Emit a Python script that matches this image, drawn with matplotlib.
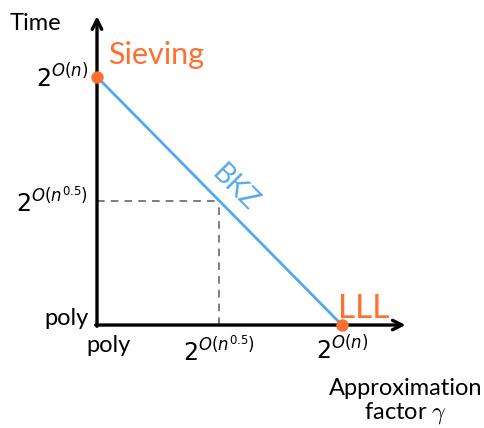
import matplotlib.pyplot as plt

plt.rcParams['font.family'] = ['Lato', 'DejaVu Sans']
plt.rcParams['mathtext.fontset'] = 'dejavusans'

# tradeoff curve: approximation factor (x) vs running time (y), both on a 0..1 scale
ALGOS = ['Sieving', 'LLL']
ALGO_X = [0.0, 1.0]
ALGO_Y = [1.0, 0.0]
MID = 0.5
X_TICKS = [0.0, 0.5, 1.0]
X_LABELS = ['poly', r'$2^{O(n^{0.5})}$', r'$2^{O(n)}$']
Y_TICKS = [0.0, 0.5, 1.0]
Y_LABELS = ['poly', r'$2^{O(n^{0.5})}$', r'$2^{O(n)}$']

ORANGE = '#ff6f30'
BLUE = '#55a8ee'

fig = plt.figure(figsize=(4.85, 4.28), dpi=100)
ax = fig.add_axes([0, 0, 1, 1])
ax.set_xlim(-0.396, 1.584)
ax.set_ylim(-0.415, 1.31)
ax.axis('off')

# axes with arrow heads
arrow = dict(arrowstyle='->', lw=2.4, color='black', mutation_scale=17, shrinkA=0, shrinkB=0)
ax.annotate('', xy=(1.26, 0), xytext=(-0.005, 0), arrowprops=arrow)
ax.annotate('', xy=(0, 1.245), xytext=(0, -0.005), arrowprops=arrow)

# dashed guides to the midpoint
ax.plot([0, MID], [MID, MID], ls=(0, (5, 4)), color='#5a5a5a', lw=1.1)
ax.plot([MID, MID], [0, MID], ls=(0, (5, 4)), color='#5a5a5a', lw=1.1)

# BKZ line and endpoints
ax.plot(ALGO_X, ALGO_Y, color=BLUE, lw=2, zorder=3)
ax.scatter(ALGO_X, ALGO_Y, color=ORANGE, s=80, zorder=4, lw=0)
ax.text(0.563, 0.552, 'BKZ', color=BLUE, fontsize=20, rotation=-45,
        ha='center', va='center', rotation_mode='anchor')
ax.text(ALGO_X[0] + 0.045, ALGO_Y[0] + 0.03, ALGOS[0], color=ORANGE, fontsize=22,
        ha='left', va='bottom')
ax.text(ALGO_X[1] - 0.018, ALGO_Y[1] + 0.005, ALGOS[1], color=ORANGE, fontsize=24,
        ha='left', va='bottom')

# tick labels
for x, lab in zip(X_TICKS, X_LABELS):
    ax.text(x + (0.045 if lab == 'poly' else 0), -0.04, lab, fontsize=17,
            ha='center', va='top')
for y, lab in zip(Y_TICKS, Y_LABELS):
    ax.text(-0.035, y + (0.025 if lab == 'poly' else 0), lab, fontsize=17,
            ha='right', va='center')

ax.text(-0.25, 1.215, 'Time', fontsize=17, ha='center', va='center')
ax.text(1.26, -0.31, 'Approximation\nfactor $\\gamma$', fontsize=17,
        ha='center', va='center', linespacing=1.1, math_fontfamily='cm')

fig.savefig('out.png', dpi=100)
